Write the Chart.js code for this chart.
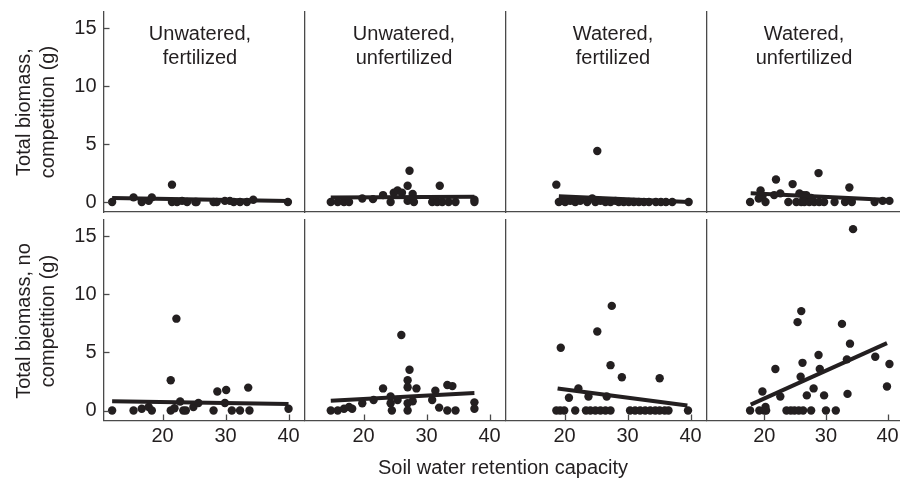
<!DOCTYPE html>
<html><head><meta charset="utf-8">
<script src="https://cdn.jsdelivr.net/npm/chart.js@4"></script>
<style>
html,body{margin:0;padding:0;background:#fff;}
#wrap{position:relative;width:904px;height:481px;overflow:hidden;font-family:"Liberation Sans",Arial,sans-serif;color:#231f20;}
#wrap canvas{position:absolute;left:0;top:0;}
.t{position:absolute;font-size:20px;line-height:24px;text-align:center;white-space:nowrap;}
</style></head><body><div id="wrap"></div>
<script>
// ---------- data ----------
const treatments = ["Unwatered,\nfertilized", "Unwatered,\nunfertilized", "Watered,\nfertilized", "Watered,\nunfertilized"];
const rowTitles = ["Total biomass,\ncompetition (g)", "Total biomass, no\ncompetition (g)"];
const xTitle = "Soil water retention capacity";
const xTicks = [20, 30, 40];
const yTicks = [0, 5, 10, 15];

// competition row
const compUF_x = [12.0, 15.4, 16.7, 17.8, 18.3, 21.5, 21.5, 22.3, 23.1, 23.9, 25.2, 25.4, 28.1, 28.6, 29.9, 30.7, 31.3, 32.3, 33.4, 34.4, 39.9];
const compUF_y = [0, 0.4, 0, 0.1, 0.4, 1.5, 0, 0, 0.1, 0, 0, 0, 0, 0, 0.1, 0.1, 0, 0, 0, 0.2, 0];
const compUF_fitX = [12, 40], compUF_fitY = [0.35, 0.1];

const compUU_x = [14.8, 15.9, 16.9, 17.7, 19.8, 21.5, 23.1, 24.3, 24.8, 25.4, 26.1, 27.0, 27.3, 27.0, 27.8, 28.0, 32.1, 30.9, 31.7, 32.5, 33.5, 34.6, 37.6, 37.6];
const compUU_y = [0, 0, 0, 0, 0.3, 0.25, 0.6, 0, 0.8, 1.0, 0.8, 1.4, 2.7, 0.1, 0.7, 0, 1.4, 0, 0, 0, 0, 0, 0, 0.2];
const compUU_fitX = [14.8, 37.6], compUU_fitY = [0.4, 0.45];

const compWF_x = [18.7, 25.2, 19.1, 19.6, 20.1, 20.9, 21.7, 22.5, 23.6, 24.4, 24.9, 25.7, 26.5, 27.3, 28.1, 28.6, 29.4, 30.2, 31.0, 31.8, 32.6, 33.4, 34.5, 35.3, 36.1, 37.1, 39.7];
const compWF_y = [1.5, 4.4, 0, 0.1, 0, 0.1, 0, 0.1, 0, 0.3, 0, 0.1, 0, 0, 0.1, 0, 0, 0, 0, 0, 0, 0, 0, 0, 0, 0, 0];
const compWF_fitX = [19.1, 39.7], compWF_fitY = [0.5, 0.0];

const compWU_x = [17.7, 19.4, 19.7, 19.1, 20.2, 21.9, 21.6, 22.6, 24.6, 23.9, 25.2, 25.7, 26.3, 26.8, 26.0, 26.5, 27.3, 28.1, 28.9, 28.8, 27.6, 29.7, 31.4, 33.8, 33.1, 34.2, 37.9, 39.2, 40.3];
const compWU_y = [0, 1.0, 0.45, 0.3, 0, 1.95, 0.6, 0.75, 1.55, 0, 0, 0.75, 0.6, 0.6, 0, 0, 0, 0, 0, 2.5, 0.35, 0, 0, 1.26, 0, 0, 0, 0.1, 0.1];
const compWU_fitX = [17.8, 40.3], compWU_fitY = [0.75, 0.17];

// no-competition row
const noneUF_x = [12.0, 15.4, 16.7, 17.8, 18.3, 22.2, 21.3, 21.3, 22.8, 21.9, 23.3, 23.7, 24.9, 25.7, 28.1, 28.7, 30.1, 29.9, 31.0, 32.3, 33.6, 33.8, 40.0];
const noneUF_y = [0, 0, 0.15, 0.3, 0, 7.9, 2.6, 0, 0.77, 0.2, 0, 0, 0.3, 0.65, 0, 1.63, 1.77, 0.65, 0, 0, 1.97, 0, 0.15];
const noneUF_fitX = [12, 40], noneUF_fitY = [0.8, 0.55];

const noneUU_x = [14.8, 15.9, 16.9, 17.7, 18.2, 19.8, 21.6, 23.1, 24.3, 24.3, 24.5, 25.4, 26.0, 27.0, 27.0, 27.3, 27.0, 27.0, 27.8, 28.4, 30.9, 31.4, 32.0, 33.3, 34.1, 33.3, 34.6, 37.6, 37.6];
const noneUU_y = [0, 0, 0.15, 0.3, 0.15, 0.63, 0.9, 1.9, 1.2, 0.63, 0, 0.9, 6.5, 2.6, 2.0, 3.5, 0.63, 0, 0.8, 1.9, 0.9, 1.7, 0.25, 2.2, 2.1, 0, 0, 0.7, 0.15];
const noneUU_fitX = [14.8, 37.6], noneUU_fitY = [0.83, 1.5];

const noneWF_x = [19.4, 25.2, 27.5, 27.3, 29.1, 35.1, 20.7, 22.2, 23.8, 26.7, 18.7, 19.3, 19.95, 21.7, 23.4, 24.1, 24.9, 25.7, 26.5, 27.3, 30.4, 31.2, 32.0, 32.8, 33.6, 34.4, 35.1, 35.9, 36.5, 39.6];
const noneWF_y = [5.4, 6.8, 9.0, 3.9, 2.86, 2.78, 1.1, 1.9, 1.2, 1.2, 0, 0, 0, 0, 0, 0, 0, 0, 0, 0, 0, 0, 0, 0, 0, 0, 0, 0, 0, 0];
const noneWF_fitX = [18.9, 39.5], noneWF_fitY = [1.9, 0.43];

const noneWU_x = [34.4, 26.0, 25.4, 32.6, 33.9, 28.8, 26.2, 33.4, 38.0, 40.3, 21.8, 29.0, 25.9, 39.9, 19.7, 22.6, 28.0, 26.9, 29.7, 33.5, 20.2, 17.7, 19.2, 20.0, 20.3, 23.6, 24.3, 24.9, 25.6, 26.3, 27.6, 30.0, 31.6];
const noneWU_y = [15.6, 8.55, 7.6, 7.45, 5.75, 4.77, 4.1, 4.4, 4.63, 4.0, 3.57, 3.57, 2.9, 2.06, 1.63, 1.2, 1.9, 1.3, 1.3, 1.43, 0.3, 0, 0, 0, 0, 0, 0, 0, 0, 0, 0, 0, 0];
const noneWU_fitX = [17.8, 39.9], noneWU_fitY = [0.5, 5.8];

const panels = [
  [[compUF_x, compUF_y, compUF_fitX, compUF_fitY], [compUU_x, compUU_y, compUU_fitX, compUU_fitY],
   [compWF_x, compWF_y, compWF_fitX, compWF_fitY], [compWU_x, compWU_y, compWU_fitX, compWU_fitY]],
  [[noneUF_x, noneUF_y, noneUF_fitX, noneUF_fitY], [noneUU_x, noneUU_y, noneUU_fitX, noneUU_fitY],
   [noneWF_x, noneWF_y, noneWF_fitX, noneWF_fitY], [noneWU_x, noneWU_y, noneWU_fitX, noneWU_fitY]]
];

// ---------- layout / style ----------
const W = 904, H = 481;
const FONT = '"Liberation Sans", Arial, sans-serif';
const INK = '#231f20', AXIS = '#4a4a4a';
const colLeft = [103.5, 304.5, 505.5, 706.5], colW = 201;
const rowTop = [11.7, 219.5], rowBottom = [212, 420.5];
const X_MIN = 10.63, PX_PER_X = 6.3;
const Y_MIN = -0.86, Y_MAX = 16.43;
const Y_LABEL_W = 60, X_LABEL_H = 40;
const titleCenters = [200, 404, 613, 804];

Chart.defaults.font.family = FONT;
Chart.defaults.color = INK;

const wrap = document.getElementById('wrap');
function fixedFit(size) {
  return s => {
    if (s.isHorizontal()) s.height = size; else s.width = size;
    s.paddingLeft = s.paddingRight = s.paddingTop = s.paddingBottom = 0;
  };
}

function makePanel(row, col) {
  const cv = document.createElement('canvas');
  cv.width = W; cv.height = H;
  wrap.appendChild(cv);
  const left = colLeft[col], right = Math.min(W, left + colW);
  const xMax = X_MIN + (right - left) / PX_PER_X;
  const showY = col === 0, showX = row === 1;
  const yW = showY ? Y_LABEL_W : 0, xH = showX ? X_LABEL_H : 0;
  const [px, py, fx, fy] = panels[row][col];
  const tickPlugin = {
    id: 'innerTicks',
    afterDraw(chart) {
      const ctx = chart.ctx, a = chart.chartArea;
      ctx.save();
      ctx.strokeStyle = AXIS; ctx.lineWidth = 1.3;
      if (showY) yTicks.forEach(v => {
        const p = Math.round(chart.scales.y.getPixelForValue(v)) + 0.5;
        ctx.beginPath(); ctx.moveTo(a.left, p); ctx.lineTo(a.left + 6, p); ctx.stroke();
      });
      if (showX) xTicks.forEach(v => {
        const p = Math.round(chart.scales.x.getPixelForValue(v)) + 0.5;
        ctx.beginPath(); ctx.moveTo(p, a.bottom); ctx.lineTo(p, a.bottom - 6); ctx.stroke();
      });
      ctx.restore();
    }
  };
  new Chart(cv, {
    type: 'scatter',
    data: {
      datasets: [
        { data: fx.map((v, i) => ({ x: v, y: fy[i] })), showLine: true, borderColor: INK, borderWidth: 4,
          pointRadius: 0, borderCapStyle: 'butt' },
        { data: px.map((v, i) => ({ x: v, y: py[i] })), showLine: false, pointRadius: 4.2,
          pointBackgroundColor: INK, pointBorderColor: INK, pointBorderWidth: 0 }
      ]
    },
    options: {
      responsive: false, animation: false, devicePixelRatio: 1,
      layout: { padding: { left: left - yW, right: W - right, top: rowTop[row], bottom: H - rowBottom[row] - xH } },
      plugins: { legend: { display: false }, tooltip: { enabled: false } },
      scales: {
        x: {
          type: 'linear', min: X_MIN, max: xMax,
          afterBuildTicks: s => { s.ticks = xTicks.map(v => ({ value: v })); },
          afterFit: fixedFit(xH),
          grid: { display: true, drawOnChartArea: false, drawTicks: false },
          border: { display: true, color: AXIS, width: 1.3 },
          ticks: { display: showX, padding: 4, font: { size: 20 }, color: INK, autoSkip: false, maxRotation: 0 }
        },
        y: {
          type: 'linear', min: Y_MIN, max: Y_MAX,
          afterBuildTicks: s => { s.ticks = yTicks.map(v => ({ value: v })); },
          afterFit: fixedFit(yW),
          grid: { display: true, drawOnChartArea: false, drawTicks: false },
          border: { display: true, color: AXIS, width: 1.3 },
          ticks: { display: showY, padding: 7, font: { size: 20 }, color: INK, autoSkip: false }
        }
      }
    },
    plugins: [tickPlugin]
  });
}

for (let r = 0; r < 2; r++) for (let c = 0; c < 4; c++) makePanel(r, c);

// ---------- text ----------
function addText(txt, css) {
  const d = document.createElement('div');
  d.className = 't';
  d.innerHTML = txt.split('\n').map(s => s.replace(/&/g, '&amp;').replace(/</g, '&lt;')).join('<br>');
  Object.assign(d.style, css);
  wrap.appendChild(d);
  return d;
}
treatments.forEach((t, i) => {
  addText(t, { left: (titleCenters[i] - 100) + 'px', top: '20.5px', width: '200px' });
});
const rowCenters = [112, 321];
rowTitles.forEach((t, i) => {
  addText(t, { left: (35 - 110) + 'px', top: (rowCenters[i] - 24) + 'px', width: '220px', height: '48px',
    transform: 'rotate(-90deg)', transformOrigin: '50% 50%' });
});
addText(xTitle, { left: (503 - 200) + 'px', top: '455px', width: '400px' });
</script>
</body></html>
